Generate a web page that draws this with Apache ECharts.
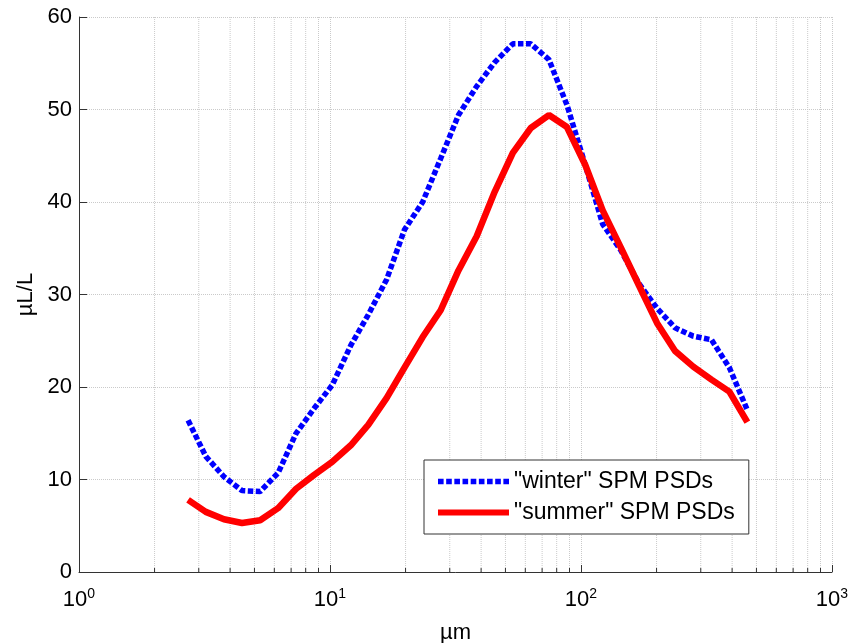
<!DOCTYPE html>
<html>
<head>
<meta charset="utf-8">
<script src="https://cdn.jsdelivr.net/npm/echarts@6/dist/echarts.min.js"></script>
<style>
  html, body { margin: 0; padding: 0; background: #fff; }
  #container { width: 851px; height: 643px; }
</style>
</head>
<body>
<div id="container"></div>
<script>
// particle size classes (µm), log spaced
var sizes = [2.72, 3.20, 3.78, 4.46, 5.27, 6.21, 7.33, 8.65, 10.2, 12.1, 14.2, 16.8,
    19.8, 23.4, 27.6, 32.5, 38.4, 45.3, 53.5, 63.1, 74.5, 87.9, 104, 122,
    144, 170, 201, 237, 280, 331, 390, 460];
// volume concentration, µL/L
var winter = [16.4, 12.5, 10.3, 8.8, 8.7, 10.7, 15.0, 17.7, 20.2, 24.5, 27.8, 31.6,
    37.0, 40.0, 44.7, 49.4, 52.5, 55.1, 57.1, 57.1, 55.4, 50.5, 44.0, 37.6,
    34.8, 31.2, 28.5, 26.4, 25.5, 25.1, 22.1, 17.5];
var summer = [7.8, 6.5, 5.7, 5.3, 5.6, 6.9, 9.0, 10.5, 11.9, 13.7, 15.9, 18.8,
    22.1, 25.4, 28.3, 32.6, 36.3, 41.1, 45.3, 48.0, 49.4, 48.1, 44.0, 39.1,
    35.1, 31.0, 26.9, 23.9, 22.2, 20.8, 19.5, 16.2];
var seriesNames = ['"winter" SPM PSDs', '"summer" SPM PSDs'];
// minor log ticks 2..9 of each decade
var minorTicks = [2, 3, 4, 5, 6, 7, 8, 9, 20, 30, 40, 50, 60, 70, 80, 90,
    200, 300, 400, 500, 600, 700, 800, 900];

var FONT = 'Liberation Sans, Arial, Helvetica, sans-serif';
var GRID_COLOR = '#cacaca';
var AXIS_COLOR = '#333';

function pairs(xs, ys) {
    var out = [];
    for (var i = 0; i < xs.length; i++) {
        out.push([xs[i], ys[i]]);
    }
    return out;
}

// legend sample for the dotted line: 9 small squares in a row
function dottedIcon() {
    var p = 'path://';
    for (var i = 0; i < 9; i++) {
        p += 'M' + (i * 8) + ',0h5.5v5.5h-5.5z';
    }
    return p;
}

var option = {
    animation: false,
    backgroundColor: '#fff',
    textStyle: { fontFamily: FONT },
    grid: { left: 79, right: 19, top: 17, bottom: 71, containLabel: false, outerBoundsMode: 'none' },
    legend: {
        data: [
            { name: seriesNames[0], icon: dottedIcon() },
            { name: seriesNames[1], icon: 'rect' }
        ],
        orient: 'vertical',
        left: 424,
        top: 460,
        padding: [10, 14, 10, 14],
        itemGap: 8,
        itemWidth: 71,
        itemHeight: 6,
        itemTextGap: 11,
        borderColor: '#333',
        borderWidth: 1,
        borderRadius: 0,
        backgroundColor: '#fff',
        textStyle: { fontSize: 23, color: '#000', fontFamily: FONT }
    },
    xAxis: {
        type: 'log',
        logBase: 10,
        min: 1,
        max: 1000,
        name: 'µm',
        nameLocation: 'middle',
        nameGap: 50,
        nameTextStyle: { fontSize: 22, color: '#000', fontFamily: FONT },
        axisLine: { show: true, lineStyle: { color: AXIS_COLOR, width: 1 } },
        axisTick: { show: true, inside: true, length: 7, lineStyle: { color: AXIS_COLOR } },
        splitLine: { show: true, lineStyle: { color: GRID_COLOR, type: [1, 1], width: 1 } },
        axisLabel: {
            margin: 15,
            showMinLabel: true,
            showMaxLabel: true,
            formatter: function (v) {
                var e = Math.round(Math.log(v) / Math.LN10);
                return '{b|10}{s|' + e + '}';
            },
            rich: {
                b: { fontSize: 22, color: '#000', lineHeight: 26, fontFamily: FONT },
                s: { fontSize: 14, color: '#000', lineHeight: 14, verticalAlign: 'top', fontFamily: FONT }
            }
        }
    },
    yAxis: {
        type: 'value',
        min: 0,
        max: 60,
        interval: 10,
        name: 'µL/L',
        nameLocation: 'middle',
        nameRotate: 90,
        nameGap: 42,
        nameTextStyle: { fontSize: 22, color: '#000', fontFamily: FONT },
        axisLine: { show: true, lineStyle: { color: AXIS_COLOR, width: 1 } },
        axisTick: { show: true, inside: true, length: 8, lineStyle: { color: AXIS_COLOR } },
        splitLine: { show: true, lineStyle: { color: GRID_COLOR, type: [1, 1], width: 1 } },
        axisLabel: { margin: 7, fontSize: 22, color: '#000', fontFamily: FONT }
    },
    series: [
        {
            // minor log gridlines and ticks
            type: 'custom',
            coordinateSystem: 'cartesian2d',
            silent: true,
            z: 1,
            data: minorTicks.map(function (v) { return [v, 0]; }),
            renderItem: function (params, api) {
                var x = api.value(0);
                var bottom = api.coord([x, 0]);
                var top = api.coord([x, 60]);
                return {
                    type: 'group',
                    children: [
                        {
                            type: 'line',
                            shape: { x1: bottom[0], y1: bottom[1], x2: top[0], y2: top[1] },
                            style: { stroke: GRID_COLOR, lineWidth: 1, lineDash: [1, 1] }
                        },
                        {
                            type: 'line',
                            shape: { x1: bottom[0], y1: bottom[1], x2: bottom[0], y2: bottom[1] - 4 },
                            style: { stroke: AXIS_COLOR, lineWidth: 1 }
                        }
                    ]
                };
            }
        },
        {
            name: seriesNames[0],
            type: 'line',
            z: 3,
            symbol: 'none',
            data: pairs(sizes, winter),
            lineStyle: { color: '#0000ff', width: 5.5, type: [5.5, 2.5], cap: 'butt' },
            itemStyle: { color: '#0000ff' }
        },
        {
            name: seriesNames[1],
            type: 'line',
            z: 4,
            symbol: 'none',
            data: pairs(sizes, summer),
            lineStyle: { color: '#ff0000', width: 6.5, type: 'solid' },
            itemStyle: { color: '#ff0000' }
        }
    ]
};

var chart = echarts.init(document.getElementById('container'), null, { renderer: 'canvas' });
chart.setOption(option);
</script>
</body>
</html>
